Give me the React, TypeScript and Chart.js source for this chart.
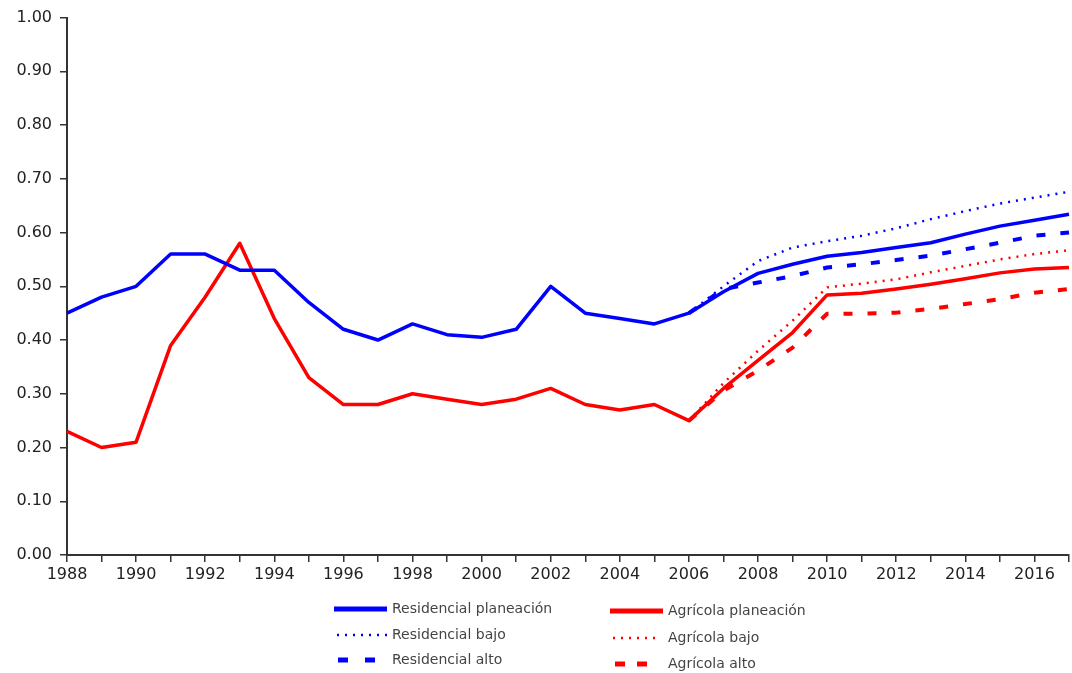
import React, { useEffect, useRef } from "react";
import { Chart, registerables } from "chart.js";

Chart.register(...registerables);

const years = ["1988","1989","1990","1991","1992","1993","1994","1995","1996","1997","1998","1999","2000","2001","2002","2003","2004","2005","2006","2007","2008","2009","2010","2011","2012","2013","2014","2015","2016","2017"];

const residencialPlaneacion = [0.45,0.48,0.50,0.56,0.56,0.53,0.53,0.47,0.42,0.40,0.43,0.41,0.405,0.42,0.50,0.45,0.44,0.43,0.45,0.49,0.524,0.541,0.556,0.563,0.572,0.581,0.597,0.612,0.623,0.634];
const residencialBajo = [null,null,null,null,null,null,null,null,null,null,null,null,null,null,null,null,null,null,0.45,0.50,0.547,0.572,0.584,0.594,0.608,0.625,0.64,0.654,0.665,0.676];
const residencialAlto = [null,null,null,null,null,null,null,null,null,null,null,null,null,null,null,null,null,null,0.45,0.495,0.507,0.519,0.535,0.541,0.549,0.557,0.569,0.581,0.594,0.60];
const agricolaPlaneacion = [0.23,0.20,0.21,0.39,0.48,0.58,0.44,0.33,0.28,0.28,0.30,0.29,0.28,0.29,0.31,0.28,0.27,0.28,0.25,0.31,0.362,0.414,0.484,0.487,0.495,0.504,0.514,0.525,0.532,0.535];
const agricolaBajo = [null,null,null,null,null,null,null,null,null,null,null,null,null,null,null,null,null,null,0.25,0.32,0.38,0.436,0.498,0.505,0.513,0.526,0.538,0.55,0.56,0.567];
const agricolaAlto = [null,null,null,null,null,null,null,null,null,null,null,null,null,null,null,null,null,null,0.25,0.306,0.343,0.386,0.449,0.449,0.451,0.458,0.467,0.476,0.488,0.495];

const BLUE = "#0000ff";
const RED = "#ff0000";
const FONT = "'DejaVu Sans', Verdana, sans-serif";

// legend layout: [sampleX0, sampleX1, textX, y] per dataset index
const legendLayout: Record<number, [number, number, number, number]> = {
  0: [334, 387, 392, 609],
  1: [337, 388, 392, 635],
  2: [338, 378, 392, 660],
  3: [610, 663, 668, 611],
  4: [613, 658, 668, 638],
  5: [615, 647, 668, 664],
};

const legendPlugin = {
  id: "customLegend",
  afterDraw(chart: any) {
    const ctx = chart.ctx;
    ctx.save();
    chart.data.datasets.forEach((ds: any, i: number) => {
      const pos = legendLayout[i];
      if (!pos) return;
      const [x0, x1, tx, y] = pos;
      ctx.beginPath();
      ctx.strokeStyle = ds.borderColor;
      ctx.lineWidth = ds.legendWidth;
      ctx.setLineDash(ds.legendDash || []);
      ctx.lineCap = "butt";
      ctx.moveTo(x0, y);
      ctx.lineTo(x1, y);
      ctx.stroke();
      ctx.setLineDash([]);
      ctx.fillStyle = "#444";
      ctx.font = `14px ${FONT}`;
      ctx.textAlign = "left";
      ctx.textBaseline = "middle";
      ctx.fillText(ds.label, tx, y);
    });
    ctx.restore();
  },
};

export default function App() {
  const ref = useRef<HTMLCanvasElement | null>(null);

  useEffect(() => {
    if (!ref.current) return;
    const chart = new Chart(ref.current, {
      type: "line",
      data: {
        labels: years,
        datasets: [
          { label: "Residencial planeación", data: residencialPlaneacion, borderColor: BLUE, borderWidth: 3.5, legendWidth: 5, legendDash: [] } as any,
          { label: "Residencial bajo", data: residencialBajo, borderColor: BLUE, borderWidth: 2.5, borderDash: [2, 6], legendWidth: 2.5, legendDash: [2, 6] } as any,
          { label: "Residencial alto", data: residencialAlto, borderColor: BLUE, borderWidth: 4, borderDash: [9, 15], legendWidth: 5, legendDash: [10, 17] } as any,
          { label: "Agrícola planeación", data: agricolaPlaneacion, borderColor: RED, borderWidth: 3.5, legendWidth: 5, legendDash: [] } as any,
          { label: "Agrícola bajo", data: agricolaBajo, borderColor: RED, borderWidth: 2.5, borderDash: [2, 6], legendWidth: 2.5, legendDash: [2, 6] } as any,
          { label: "Agrícola alto", data: agricolaAlto, borderColor: RED, borderWidth: 4, borderDash: [9, 15], legendWidth: 5, legendDash: [10, 12] } as any,
        ],
      },
      options: {
        animation: false,
        responsive: false,
        maintainAspectRatio: false,
        layout: { padding: { top: 16, right: 2, left: 0, bottom: 0 } },
        elements: { point: { radius: 0 }, line: { tension: 0, borderCapStyle: "butt", borderJoinStyle: "round" } },
        plugins: { legend: { display: false }, tooltip: { enabled: false } },
        scales: {
          x: {
            type: "category",
            offset: false,
            grid: { display: true, drawOnChartArea: false, drawTicks: true, tickLength: 7, color: "#333", lineWidth: 1.5 },
            border: { display: true, color: "#333", width: 2 },
            ticks: {
              autoSkip: false,
              maxRotation: 0,
              minRotation: 0,
              padding: 3,
              color: "#222",
              font: { family: FONT, size: 16 },
              callback: (_v: any, i: number) => (i % 2 === 0 ? years[i] : ""),
            },
            afterFit: (s: any) => { s.height = 118; },
          },
          y: {
            min: 0,
            max: 1,
            grid: { display: true, drawOnChartArea: false, drawTicks: true, tickLength: 7, color: "#333", lineWidth: 1.5 },
            border: { display: true, color: "#333", width: 2 },
            ticks: {
              stepSize: 0.1,
              padding: 8,
              color: "#222",
              font: { family: FONT, size: 16 },
              callback: (v: any) => Number(v).toFixed(2),
            },
            afterFit: (s: any) => { s.width = 67; },
          },
        },
      },
      plugins: [legendPlugin],
    } as any);
    return () => chart.destroy();
  }, []);

  return (
    <div style={{ position: "fixed", left: 0, top: 0, width: 1072, height: 673, background: "#fff" }}>
      <canvas ref={ref} width={1072} height={673} style={{ width: 1072, height: 673 }} />
    </div>
  );
}
